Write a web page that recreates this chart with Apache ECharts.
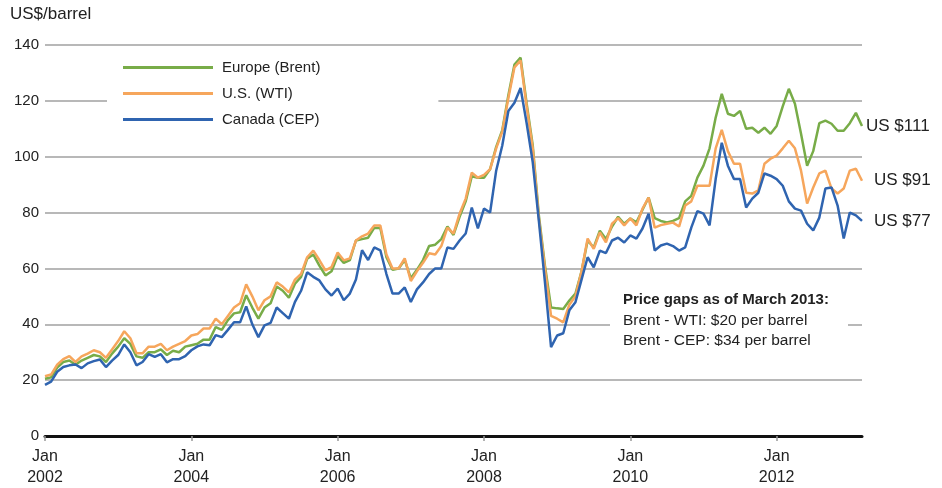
<!DOCTYPE html>
<html>
<head>
<meta charset="utf-8">
<script src="https://cdn.jsdelivr.net/npm/echarts@6/dist/echarts.min.js"></script>
<style>
    html, body {margin: 0; padding: 0; background: #fff;}
    #chart {width: 942px; height: 488px;}
</style>
</head>
<body>
<div id="chart"></div>
<script>
    // monthly, Jan 2002 .. Mar 2013
    var months = [];
    for (var y = 2002; y <= 2013; y++) {
        for (var m = 1; m <= 12; m++) {
            if (y === 2013 && m > 3) break;
            months.push(y + '-' + (m < 10 ? '0' + m : m));
        }
    }

    var brent = [
        20.5, 21, 24.5, 26.5, 27, 25.5, 27, 28, 29, 28.5, 26.5, 29.5,
        32, 35, 33, 28.5, 28, 30, 30, 31, 29, 30.5, 30, 32,
        32.5, 33, 34.5, 34.5, 39, 38, 41.5, 43.9, 44.3, 50.4, 46, 42,
        46, 47.5, 53.5, 52, 49.5, 54.5, 57, 63.5, 65, 61, 57.5, 59,
        64.5, 62, 63, 70, 70.5, 71, 74.5, 74.5, 64, 59.5, 60, 63,
        56.5, 59.5, 63, 68, 68.5, 70.5, 75, 72, 78.5, 84, 93, 92.5,
        92.5, 95.5, 103.5, 109.5, 122, 133, 135.5, 119, 104, 79, 61, 46,
        45.7, 45.5, 48.5, 51, 59, 70, 67.5, 73.5, 70.5, 75, 78.5, 76,
        77.9, 76.5, 81, 85.4, 78, 77, 76.5, 77, 78, 84, 86, 92.5,
        96.8, 103, 114, 122.5, 115.4, 114.6, 116.4, 110, 110.4, 108.6, 110.4, 108.2,
        111, 118, 124.3, 119, 108.2, 96.8, 102, 112, 112.9, 111.8, 109.3, 109.3,
        112, 115.7, 111
    ];
    var wti = [
        21.4, 22, 25.5, 27.5, 28.6, 26.5, 28.5, 29.5, 30.7, 30, 28, 31,
        34, 37.5, 35, 29.6, 29.6, 32, 32, 33, 30.7, 32, 33, 34,
        36, 36.5, 38.5, 38.5, 42, 40, 43, 46, 47.5, 54.3, 50, 45,
        48.6, 50, 55, 53.5, 51.4, 56, 58, 64, 66.4, 63, 59.3, 60.5,
        65.7, 62.9, 63.6, 70, 71.5, 72.5, 75.4, 75.4, 65, 60, 60, 63.6,
        55.5, 59, 62, 65.4, 65, 68, 74.6, 72.5, 79.6, 85, 94.3, 92.5,
        93.5, 95.5, 103, 109, 121, 132, 134.5, 118, 103, 78, 60, 43,
        42, 40.7, 47, 50, 59, 70.7, 67, 72.9, 69.3, 76, 78, 75.4,
        77.9, 75.4, 81.4, 85.4, 74.6, 75.5, 76, 76.4, 75, 82.5, 84, 89.6,
        89.6, 89.6, 103, 109.6, 102, 97.5, 97.5, 87.1, 86.8, 88, 97.5, 99.3,
        100.4, 103, 105.7, 103, 95, 83.2, 89, 94, 95, 88.6, 86.8, 88.6,
        95, 95.7, 91.4
    ];
    var cep = [
        18.3, 19.5, 23, 24.7, 25.3, 25.6, 24.3, 26, 26.8, 27.4, 24.7, 27,
        29, 32.8, 30, 25.3, 26.5, 29.3, 28.3, 29.3, 26.4, 27.5, 27.5, 28.6,
        30.7, 32.1, 32.8, 32.5, 36.1, 35.4, 38, 40.7, 40.7, 46.4, 40, 35.4,
        39.6, 40.5, 46, 44, 42, 48, 52, 58.6, 57, 55.7, 52.5, 50.3,
        52.8, 48.6, 51, 56, 66.5, 63, 67.5, 66.5, 58, 51, 51, 53.2,
        48, 52.5, 55, 58, 60, 60, 67.5, 67, 70, 72.5, 81.8, 74.3,
        81.4, 80, 95, 104, 116.4, 119.3, 124.6, 112, 98, 77, 55, 31.8,
        36, 36.8, 45, 47.9, 56, 64, 60.4, 66.4, 65.5, 70, 71, 69.3,
        71.8, 70.7, 74.3, 79.6, 66.4, 68.2, 68.9, 68, 66.4, 67.5, 74.6, 80.5,
        79.6, 75.4, 92, 105, 96.8, 92, 92, 81.8, 85, 87.1, 94, 93.2,
        92, 89.6, 84, 81.4, 80.7, 76, 73.6, 78.2, 88.6, 89, 82.5, 70.7,
        80, 79, 77
    ];
    var seriesNames = ['Europe (Brent)', 'U.S. (WTI)', 'Canada (CEP)'];
    var endLabels = ['US $111', 'US $91', 'US $77'];
    var noteLines = ['Price gaps as of March 2013:', 'Brent - WTI: $20 per barrel', 'Brent - CEP: $34 per barrel'];

    var font = '"Liberation Sans", Arial, Helvetica, sans-serif';
    var colors = ['#78ac48', '#f6a65c', '#2f64b0'];

    var chart = echarts.init(document.getElementById('chart'));

    function lineSeries(name, data, color, label, dist) {
        return {
            name: name,
            type: 'line',
            data: data,
            showSymbol: false,
            symbol: 'none',
            lineStyle: {color: color, width: 2.5},
            itemStyle: {color: color},
            animation: false,
            endLabel: {
                show: true,
                formatter: label,
                distance: dist,
                color: '#222',
                fontSize: 17,
                fontFamily: font
            }
        };
    }

    var option = {
        animation: false,
        textStyle: {fontFamily: font},
        grid: {left: 45, right: 80, top: 45, bottom: 52},
        legend: {
            orient: 'vertical',
            left: 107,
            top: 56,
            backgroundColor: '#fff',
            padding: [4, 118, 4, 16],
            itemWidth: 90,
            itemHeight: 3,
            itemGap: 11,
            icon: 'rect',
            textStyle: {fontSize: 15, color: '#222', fontFamily: font, padding: [0, 0, 0, 4]},
            data: seriesNames
        },
        graphic: [
            {type: 'text', left: 10, top: 6,
                style: {text: 'US$/barrel', fontSize: 17, fill: '#222', fontFamily: font}},
            {type: 'rect', left: 610, top: 286, z: 50,
                shape: {width: 238, height: 66}, style: {fill: '#fff'}},
            {type: 'text', left: 623, top: 292, z: 51,
                style: {text: noteLines[0], fontSize: 15, fontWeight: 'bold', fill: '#222', fontFamily: font}},
            {type: 'text', left: 623, top: 313, z: 51,
                style: {text: noteLines[1], fontSize: 15.5, fill: '#222', fontFamily: font}},
            {type: 'text', left: 623, top: 333, z: 51,
                style: {text: noteLines[2], fontSize: 15.5, fill: '#222', fontFamily: font}}
        ],
        xAxis: {
            type: 'category',
            boundaryGap: false,
            data: months,
            axisLine: {lineStyle: {color: '#111', width: 3}},
            axisTick: {
                show: true,
                length: 5,
                interval: function (idx) { return idx % 24 === 0; },
                lineStyle: {color: '#999', width: 1.5}
            },
            axisLabel: {
                interval: function (idx) { return idx % 24 === 0; },
                formatter: function (v) { return 'Jan\n' + v.slice(0, 4); },
                fontSize: 16,
                lineHeight: 21,
                color: '#222',
                margin: 10
            },
            splitLine: {show: false}
        },
        yAxis: {
            type: 'value',
            min: 0,
            max: 140,
            interval: 20,
            axisLine: {show: false},
            axisTick: {show: false},
            axisLabel: {fontSize: 15, color: '#222', margin: 6},
            splitLine: {lineStyle: {color: '#a0a0a0', width: 1.5}}
        },
        series: [
            lineSeries(seriesNames[0], brent, colors[0], endLabels[0], 4),
            lineSeries(seriesNames[1], wti, colors[1], endLabels[1], 12),
            lineSeries(seriesNames[2], cep, colors[2], endLabels[2], 12)
        ]
    };
    chart.setOption(option);
</script>
</body>
</html>
